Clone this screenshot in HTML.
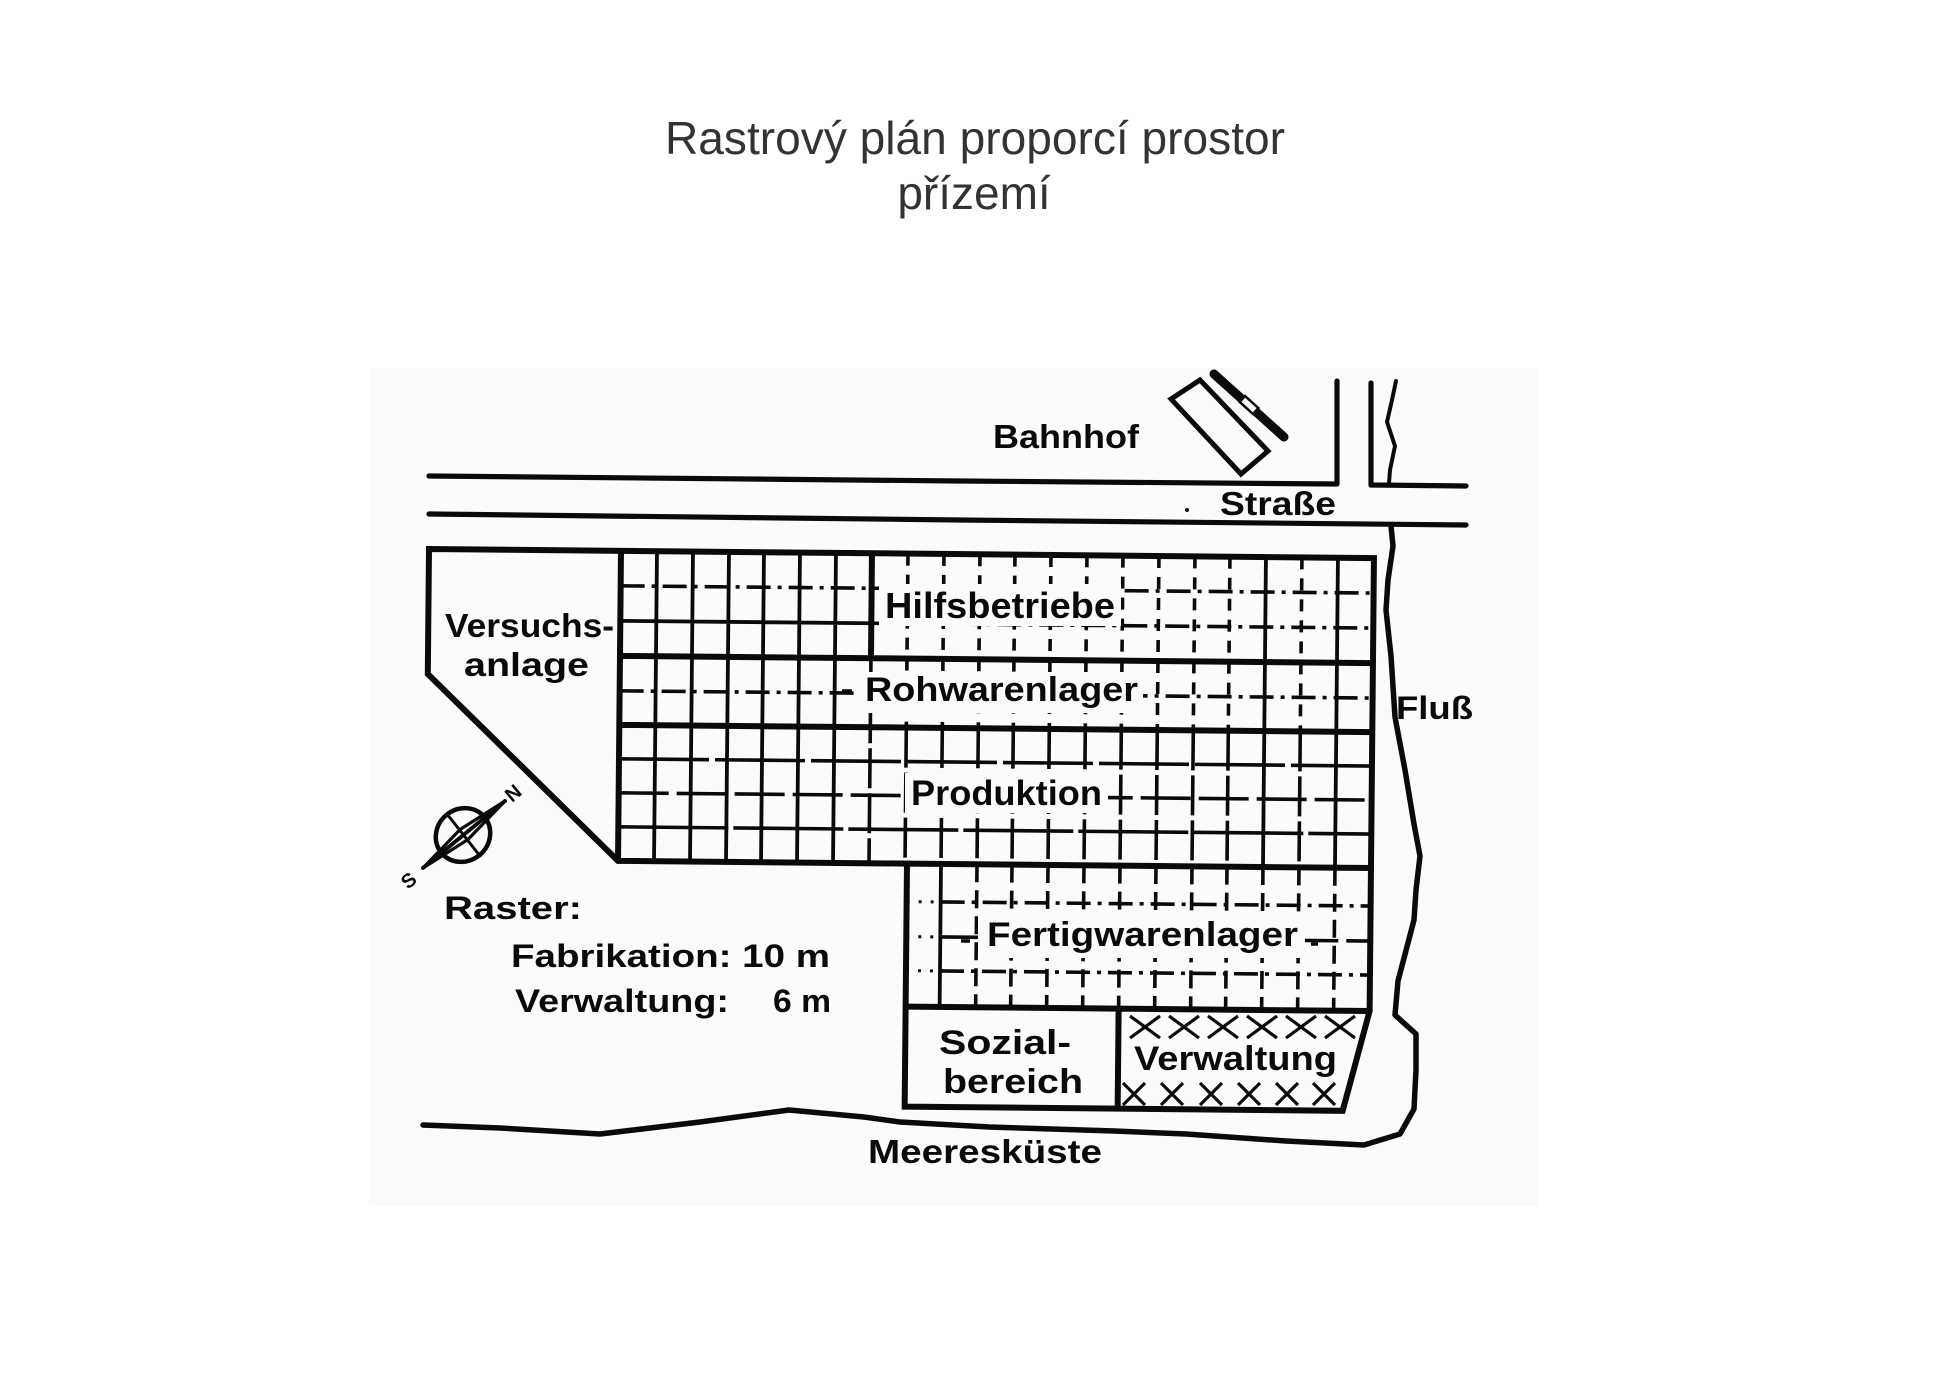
<!DOCTYPE html>
<html>
<head>
<meta charset="utf-8">
<style>
  html,body{margin:0;padding:0;background:#fff;}
  svg{display:block;}
  .lbl{font-family:"Liberation Sans",Arial,sans-serif;font-weight:bold;fill:#0a0a0a;}
  .ttl{font-family:"Liberation Sans",Arial,sans-serif;fill:#333;}
</style>
</head>
<body>
<svg width="1944" height="1373" viewBox="0 0 1944 1373" xmlns="http://www.w3.org/2000/svg">
  <rect x="0" y="0" width="1944" height="1373" fill="#fff"/>
  <rect x="369" y="368" width="1169" height="838" fill="#fbfbfb"/>

  <!-- Title -->
  <text class="ttl" x="975" y="154" font-size="46" text-anchor="middle" textLength="620" lengthAdjust="spacingAndGlyphs">Rastrový plán proporcí prostor</text>
  <text class="ttl" x="974" y="209" font-size="46" text-anchor="middle">přízemí</text>

  <!-- Roads -->
  <g fill="none" stroke="#0a0a0a" stroke-width="5.2" stroke-linejoin="round" stroke-linecap="round">
    <path d="M429 476 L960 481 L1337 484 L1337 381"/>
    <path d="M1371 383 L1371 485 L1466 486"/>
    <path d="M429 514 L960 520 L1466 525"/>
    <path d="M1396 381 L1392 400 L1387 422 L1395 446 L1390 470 L1389 483" stroke-width="4"/>
    <!-- river + coast -->
    <path d="M1391 526 L1393 546 L1388 580 L1386 610 L1391 656 L1395 717 L1405 770 L1414 824 L1420 856 L1416 890 L1414 920 L1398 981 L1395 1015 L1416 1034 L1416 1070 L1414 1109 L1400 1134 L1364 1145 L1286 1141 L1186 1134 L1114 1131 L989 1127 L900 1122 L864 1117 L789 1110 L700 1122 L600 1134 L500 1128 L423 1125" stroke-width="5.5"/>
  </g>
  <circle cx="1187" cy="510" r="2" fill="#111"/>

  <!-- Station -->
  <g fill="none" stroke="#0a0a0a" stroke-linejoin="miter">
    <polygon points="1171,399 1200,380 1268,451 1241,474" stroke-width="5"/>
    <line x1="1214" y1="374" x2="1284" y2="437" stroke-width="9" stroke-linecap="round"/>
    <rect x="-9" y="-4" width="18" height="8" transform="translate(1249 405) rotate(42)" fill="#fbfbfb" stroke-width="2.5"/>
  </g>

  <!-- Building (local coords, rotated) -->
  <g transform="rotate(0.55 429 549)" fill="none" stroke="#0a0a0a">
    <!-- thin solid -->
    <path stroke-width="3.8" d="M657 549V859M693 549V859M729 549V859M764 549V859M800 549V859M836 549V859 M621 619H872 M1266 549V859 M1338 549V859 M944 859V1002"/>
    <!-- dashed verticals Hilfs/Rohw bands -->
    <path stroke-width="3.6" stroke-dasharray="12 9" d="M908 549V723M944 549V723M980 549V723M1015 549V723M1051 549V723M1087 549V723M1123 549V723M1159 549V723M1195 549V723M1230 549V723M1302 549V723"/>
    <!-- Produktion band verticals -->
    <path stroke-width="3.6" stroke-dasharray="40 5" d="M872 654V859M908 723V859M944 723V859M980 723V859M1015 723V859M1051 723V859M1087 723V859M1123 723V859M1159 723V859M1195 723V859M1230 723V859M1302 723V859"/>
    <!-- Fertig band verticals -->
    <path stroke-width="3.6" stroke-dasharray="18 8" d="M980 859V1002M1015 859V1002M1051 859V1002M1087 859V1002M1123 859V1002M1159 859V1002M1195 859V1002M1230 859V1002M1266 859V1002M1302 859V1002M1338 859V1002"/>
    <!-- dashed rows -->
    <path stroke-width="3.6" stroke-dasharray="24 7 4 7" d="M621 584H1374 M872 619H1374 M621 689H1374 M944 897H1374 M944 966H1374"/>
    <path stroke-width="3.6" stroke-dasharray="90 6" d="M621 757H1374"/>
    <path stroke-width="3.6" stroke-dasharray="50 8" d="M621 791H1374 M944 932H1374"/>
    <path stroke-width="3.6" stroke-dasharray="110 5" d="M621 825H1374"/>
    <path stroke-width="3" stroke-dasharray="3 9" d="M910 897H944 M910 932H944 M910 966H944"/>
    <!-- thick -->
    <path stroke-width="6" d="M621 549V859 M621 654H1374 M621 723H1374 M910 859H1374 M910 1002H1374 M872 549V654 M1123 1002V1102"/>
    <!-- outline -->
    <path stroke-width="6" stroke-linejoin="miter" d="M429 549 H1374 V1002 L1348 1102 H910 V859 H621 L429 674 Z"/>
  </g>

  <!-- Verwaltung hatch -->
  <g stroke="#0a0a0a" stroke-width="3.2" fill="none">
    <path d="M1130 1016L1160 1038M1130 1038L1160 1016 M1169 1016L1199 1038M1169 1038L1199 1016 M1208 1016L1238 1038M1208 1038L1238 1016 M1247 1016L1277 1038M1247 1038L1277 1016 M1286 1016L1316 1038M1286 1038L1316 1016 M1325 1016L1355 1038M1325 1038L1355 1016"/>
    <path d="M1123 1083L1145 1105M1123 1105L1145 1083 M1161 1083L1183 1105M1161 1105L1183 1083 M1200 1083L1222 1105M1200 1105L1222 1083 M1238 1083L1260 1105M1238 1105L1260 1083 M1276 1083L1298 1105M1276 1105L1298 1083 M1313 1083L1335 1105M1313 1105L1335 1083"/>
  </g>

  <!-- label knockouts -->
  <g fill="#fbfbfb">
    <rect x="879" y="584" width="242" height="42"/>
    <rect x="860" y="672" width="283" height="41"/>
    <rect x="905" y="773" width="203" height="40"/>
    <rect x="978" y="915" width="327" height="43"/>
  </g>
  <!-- small dashes near labels -->
  <g stroke="#0a0a0a" stroke-width="3.5">
    <path d="M842 691H852 M961 941H970 M1311 944H1318"/>
  </g>

  <!-- Labels -->
  <text class="lbl" x="993" y="448" font-size="33" textLength="146" lengthAdjust="spacingAndGlyphs">Bahnhof</text>
  <text class="lbl" x="1220" y="515" font-size="33" textLength="116" lengthAdjust="spacingAndGlyphs">Straße</text>
  <text class="lbl" x="445" y="637" font-size="33" textLength="169" lengthAdjust="spacingAndGlyphs">Versuchs-</text>
  <text class="lbl" x="464" y="676" font-size="33" textLength="125" lengthAdjust="spacingAndGlyphs">anlage</text>
  <text class="lbl" x="885" y="618" font-size="36" textLength="230" lengthAdjust="spacingAndGlyphs">Hilfsbetriebe</text>
  <text class="lbl" x="865" y="701" font-size="34" textLength="273" lengthAdjust="spacingAndGlyphs">Rohwarenlager</text>
  <text class="lbl" x="911" y="805" font-size="35" textLength="191" lengthAdjust="spacingAndGlyphs">Produktion</text>
  <text class="lbl" x="1396" y="719" font-size="32" textLength="77" lengthAdjust="spacingAndGlyphs">Fluß</text>
  <text class="lbl" x="987" y="946" font-size="34" textLength="311" lengthAdjust="spacingAndGlyphs">Fertigwarenlager</text>
  <text class="lbl" x="939" y="1054" font-size="34" textLength="132" lengthAdjust="spacingAndGlyphs">Sozial-</text>
  <text class="lbl" x="943" y="1093" font-size="34" textLength="140" lengthAdjust="spacingAndGlyphs">bereich</text>
  <text class="lbl" x="1134" y="1070" font-size="34" textLength="203" lengthAdjust="spacingAndGlyphs">Verwaltung</text>
  <text class="lbl" x="444" y="919" font-size="32" textLength="138" lengthAdjust="spacingAndGlyphs">Raster:</text>
  <text class="lbl" x="511" y="967" font-size="32" textLength="319" lengthAdjust="spacingAndGlyphs">Fabrikation: 10 m</text>
  <text class="lbl" x="515" y="1012" font-size="32" textLength="214" lengthAdjust="spacingAndGlyphs">Verwaltung:</text>
  <text class="lbl" x="773" y="1012" font-size="32" textLength="58" lengthAdjust="spacingAndGlyphs">6 m</text>
  <text class="lbl" x="868" y="1163" font-size="33" textLength="234" lengthAdjust="spacingAndGlyphs">Meeresküste</text>

  <!-- Compass -->
  <g stroke="#0a0a0a" fill="none" stroke-linecap="round">
    <ellipse cx="463" cy="835" rx="28" ry="26" transform="rotate(-40 463 835)" stroke-width="4.5"/>
    <polygon points="423,868 467.8,839.6 505,801 460.2,829.4" stroke-width="3.2" fill="#fbfbfb"/>
    <line x1="423" y1="868" x2="505" y2="801" stroke-width="4"/>
    <line x1="447" y1="814" x2="480" y2="856" stroke-width="3"/>
  </g>
  <text class="lbl" x="0" y="0" font-size="20" transform="translate(512 803) rotate(-40)">N</text>
  <text class="lbl" x="0" y="0" font-size="20" transform="translate(408 890) rotate(-40)">S</text>
</svg>
</body>
</html>
